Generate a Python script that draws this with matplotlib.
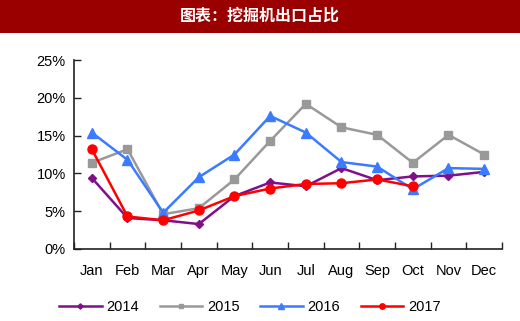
import matplotlib
matplotlib.use("Agg")
import matplotlib.pyplot as plt
from matplotlib.patches import Rectangle

months = ["Jan", "Feb", "Mar", "Apr", "May", "Jun", "Jul", "Aug", "Sep", "Oct", "Nov", "Dec"]
s2014 = [9.4, 4.1, 3.8, 3.3, 7.0, 8.8, 8.3, 10.7, 9.1, 9.6, 9.7, 10.2]
s2015 = [11.4, 13.2, 4.6, 5.4, 9.2, 14.3, 19.2, 16.1, 15.1, 11.4, 15.1, 12.5]
s2016 = [15.4, 11.8, 4.8, 9.5, 12.5, 17.6, 15.4, 11.5, 10.9, 7.9, 10.7, 10.6]
s2017 = [13.2, 4.3, 3.8, 5.1, 7.0, 8.0, 8.6, 8.7, 9.2, 8.3]
yticks = [0, 5, 10, 15, 20, 25]
title = "图表：挖掘机出口占比"

plt.rcParams['font.family'] = ['Liberation Sans', 'DejaVu Sans']

fig = plt.figure(figsize=(5.2, 3.21), dpi=100)
# title banner
fig.patches.append(Rectangle((0, 1 - 33/321), 1, 33/321, transform=fig.transFigure,
                             facecolor="#9B0000", edgecolor="none", zorder=0))
fig.text(0.5, 1 - 16/321, title, color="white", fontsize=11.5, fontweight="bold",
         ha="center", va="center", family=['Noto Sans CJK SC', 'DejaVu Sans'])

ax = fig.add_axes([74/520, (321-249)/321, (502-74)/520, (249-60)/321])
x = list(range(len(months)))
ax.plot(x, s2014, color="#7F0F8A", marker="D", markersize=4.5, lw=1.8, label="2014")
ax.plot(x, s2015, color="#999999", marker="s", markersize=6, lw=1.8, label="2015")
ax.plot(x, s2016, color="#3B7BFF", marker="^", markersize=7, lw=1.8, label="2016")
ax.plot(x[:len(s2017)], s2017, color="#FF0000", marker="o", markersize=6.5, lw=1.8, label="2017")

ax.set_xlim(-0.5, len(months) - 0.5)
ax.set_ylim(0, 25)
ax.set_yticks(yticks)
ax.set_yticklabels([f"{v}%" for v in yticks], fontsize=10.5)
ax.set_xticks([i - 0.5 for i in range(len(months) + 1)])
ax.set_xticklabels([])
ax.set_xticks(x, minor=True)
ax.set_xticklabels(months, minor=True, fontsize=10.5)
ax.tick_params(axis="x", which="minor", length=0, pad=11)
ax.tick_params(axis="x", which="major", direction="in", length=5, width=1, color="#222222")
ax.tick_params(axis="y", direction="in", length=5, width=1, color="#222222", pad=6)
for s in ["top", "right"]:
    ax.spines[s].set_visible(False)
for s in ["left", "bottom"]:
    ax.spines[s].set_color("#222222")
    ax.spines[s].set_linewidth(1.2)

ax.legend(loc="upper center", bbox_to_anchor=(0.5 - 38/428, -0.2), ncol=4, frameon=False,
          fontsize=10.5, handlelength=2.9, columnspacing=1.4, handletextpad=0.35,
          markerscale=0.6)

fig.savefig("out.png", dpi=100)
